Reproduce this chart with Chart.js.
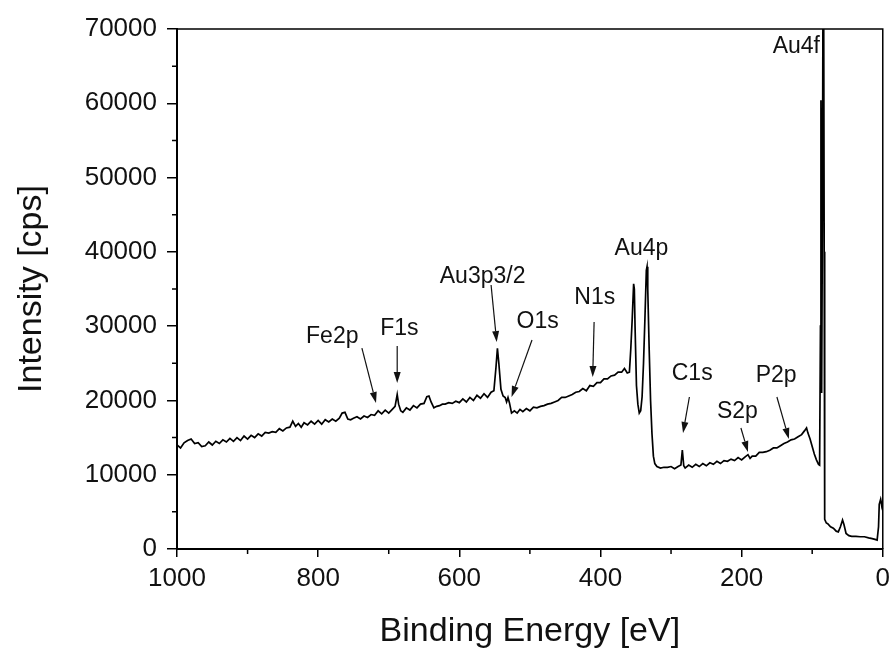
<!DOCTYPE html>
<html>
<head>
<meta charset="utf-8">
<script src="https://cdn.jsdelivr.net/npm/chart.js@4.4.0/dist/chart.umd.min.js"></script>
<style>
  html, body { margin: 0; padding: 0; background: #fff; }
  #wrap { width: 896px; height: 655px; }
</style>
</head>
<body>
<div id="wrap"><canvas id="xps" width="896" height="655"></canvas></div>
<script>
// XPS survey spectrum
const bindingEnergy = [
  1000,995,990,985,980,975,970,965,960,955,950,945,940,935,930,925,920,915,910,905,
  900,895,890,885,880,875,870,865,860,855,850,845,840,836,832,828,824,820,815,810,
  805,800,795,790,785,780,775,770,766,762,758,754,750,745,740,735,730,725,720,715,
  710,705,700,695,691,688,686,683,680,675,670,665,660,655,650,646,643,640,636,632,
  628,624,620,615,610,605,600,595,590,585,580,575,570,565,560,555,551,548,546,544,
  541,538,535,533,531,529,526,522,518,514,510,505,500,495,490,485,480,475,470,465,
  460,455,450,445,440,435,430,425,420,415,410,405,400,395,390,385,380,375,370,366,
  362,359,357,355,353,352,351,349,347,345,343,341,339,337,335,334,333,331,329,327,
  325,323,320,315,310,305,300,295,290,286,284,282,280,275,270,265,260,255,250,245,
  240,235,230,225,220,215,210,205,200,195,191,188,185,180,175,170,165,160,155,150,
  145,140,135,130,125,120,115,111,108,106,103,100,97,94,91,89.5,88.3,87.6,86.6,85.5,
  84.2,83,82.3,80,78,74,70,66,63,60,57,55,52,48,44,38,32,26,20,15,
  11,8,6,5,3,2,1,0
];
const intensity = [
  14000,13600,14300,14600,14800,14200,14300,13800,13900,14400,14000,14500,14200,14700,14400,14900,14500,15000,14600,15200,
  14800,15300,15000,15500,15200,15700,15600,15800,15700,16200,15900,16300,16400,17200,16500,16900,16400,17000,16700,17200,
  16800,17300,16800,17400,17100,17500,17200,17600,18300,18400,17500,17400,17600,17800,17500,17900,17700,18100,18000,18600,
  18200,18700,18300,18800,19200,20800,19500,18600,18400,19000,18700,19300,19000,19500,19600,20500,20600,19800,19000,19200,
  19300,19500,19500,19700,19600,19900,19700,20200,19800,20400,20000,20700,20300,20900,20400,21100,21300,24500,27000,25000,
  21500,20600,20400,19800,20400,19700,18300,18600,18300,18800,18500,18900,18600,19100,19000,19200,19300,19500,19600,19800,
  20000,20400,20400,20600,20800,21100,21200,21600,21300,22000,21900,22400,22400,22900,22900,23300,23400,23800,23800,24300,
  23700,23800,27000,31000,35700,35000,30000,22000,19500,18300,18600,20500,25000,31000,37500,38000,35000,27000,20000,15500,
  12500,11500,11100,10900,11000,11000,11100,10800,11100,11300,13300,11200,10900,11300,11000,11400,11100,11500,11200,11600,
  11400,11800,11500,11900,11800,12100,11900,12300,12000,12400,12700,12200,12500,12500,13000,13000,13100,13300,13600,13600,
  13900,14200,14400,14700,14800,15100,15400,15900,16300,15600,14800,13800,12800,12000,11400,11300,30000,60400,21000,45000,
  95000,40000,4000,3500,3400,3000,2800,2400,2300,3000,3900,3300,2100,1800,1700,1700,1650,1650,1500,1400,
  1300,1200,3000,6000,6700,6200,5500,5200
];

const xTicks = [1000, 800, 600, 400, 200, 0];
const xMinor = [900, 700, 500, 300, 100];
const yTicks = [0, 10000, 20000, 30000, 40000, 50000, 60000, 70000];
const yMinor = [5000, 15000, 25000, 35000, 45000, 55000, 65000];

// peak labels: text spot and arrow, all in (eV, cps)
const peakLabels = [
  { text: 'Fe2p',    at: [780, 28540],  from: [738, 27050], to: [718, 19650] },
  { text: 'F1s',     at: [685, 29610],  from: [688, 27320], to: [688, 22340] },
  { text: 'Au3p3/2', at: [567, 36610],  from: [555, 35530], to: [547, 27860] },
  { text: 'O1s',     at: [489, 30550],  from: [497, 28130], to: [526, 20460] },
  { text: 'N1s',     at: [408, 33780],  from: [409, 30550], to: [411, 23150] },
  { text: 'Au4p',    at: [342, 40380] },
  { text: 'C1s',     at: [270, 23550],  from: [274, 20460], to: [283, 15610] },
  { text: 'S2p',     at: [206, 18440],  from: [201, 16290], to: [191, 13060] },
  { text: 'P2p',     at: [151, 23290],  from: [150, 20460], to: [133, 14810] },
  { text: 'Au4f',    at: [89, 67570], align: 'right' }
];

const FONT = '"Liberation Sans", Arial, sans-serif';

const framePlugin = {
  id: 'frame',
  afterDraw(chart) {
    const {ctx, chartArea: a, scales: {x, y}} = chart;
    ctx.save();
    ctx.strokeStyle = '#000';
    ctx.lineWidth = 1.5;
    ctx.beginPath();
    ctx.moveTo(a.left, a.top);
    ctx.lineTo(a.right, a.top);
    ctx.lineTo(a.right, a.bottom);
    ctx.stroke();
    // short minor ticks
    ctx.beginPath();
    yMinor.forEach(v => {
      const p = y.getPixelForValue(v);
      ctx.moveTo(a.left, p);
      ctx.lineTo(a.left - 5, p);
    });
    xMinor.forEach(v => {
      const p = x.getPixelForValue(v);
      ctx.moveTo(p, a.bottom);
      ctx.lineTo(p, a.bottom + 5);
    });
    ctx.stroke();
    ctx.restore();
  }
};

const labelPlugin = {
  id: 'peakLabels',
  afterDatasetsDraw(chart) {
    const {ctx, scales: {x, y}} = chart;
    ctx.save();
    ctx.fillStyle = '#111';
    ctx.strokeStyle = '#111';
    ctx.lineWidth = 1.2;
    ctx.font = '23px ' + FONT;
    ctx.textBaseline = 'middle';
    peakLabels.forEach(p => {
      ctx.textAlign = p.align || 'center';
      ctx.fillText(p.text, x.getPixelForValue(p.at[0]), y.getPixelForValue(p.at[1]));
      if (!p.from) return;
      const x1 = x.getPixelForValue(p.from[0]), y1 = y.getPixelForValue(p.from[1]);
      const x2 = x.getPixelForValue(p.to[0]), y2 = y.getPixelForValue(p.to[1]);
      const ang = Math.atan2(y2 - y1, x2 - x1);
      const len = 11, half = 3.5;
      const bx = x2 - len * Math.cos(ang), by = y2 - len * Math.sin(ang);
      ctx.beginPath();
      ctx.moveTo(x1, y1);
      ctx.lineTo(bx, by);
      ctx.stroke();
      ctx.beginPath();
      ctx.moveTo(x2, y2);
      ctx.lineTo(bx + half * Math.sin(ang), by - half * Math.cos(ang));
      ctx.lineTo(bx - half * Math.sin(ang), by + half * Math.cos(ang));
      ctx.closePath();
      ctx.fill();
    });
    ctx.restore();
  }
};

new Chart(document.getElementById('xps'), {
  type: 'line',
  data: {
    datasets: [{
      data: bindingEnergy.map((e, i) => ({x: e, y: intensity[i]})),
      borderColor: '#000',
      borderWidth: 1.7,
      pointRadius: 0,
      tension: 0
    }]
  },
  options: {
    responsive: false,
    animation: false,
    layout: { padding: { top: 29, right: 10, left: 0, bottom: 0 } },
    plugins: { legend: { display: false }, tooltip: { enabled: false } },
    scales: {
      x: {
        type: 'linear',
        reverse: true,
        min: 0,
        max: 1000,
        afterBuildTicks: s => { s.ticks = xTicks.map(v => ({value: v})); },
        afterFit: s => { s.height = 106; },
        grid: { drawOnChartArea: false, tickLength: 8, color: '#000', lineWidth: 1.5 },
        border: { display: true, color: '#000', width: 2 },
        ticks: {
          color: '#111', padding: 6, maxRotation: 0,
          font: { family: FONT, size: 26 },
          callback: v => String(v)
        },
        title: {
          display: true,
          text: 'Binding Energy [eV]',
          color: '#111',
          padding: { top: 0, bottom: 3 },
          font: { family: FONT, size: 34 }
        }
      },
      y: {
        min: 0,
        max: 70000,
        afterBuildTicks: s => { s.ticks = yTicks.map(v => ({value: v})); },
        afterFit: s => { s.width = 177; },
        grid: { drawOnChartArea: false, tickLength: 10, color: '#000', lineWidth: 1.5 },
        border: { display: true, color: '#000', width: 2 },
        ticks: {
          color: '#111', padding: 10,
          font: { family: FONT, size: 26 },
          callback: v => String(v)
        },
        title: {
          display: true,
          text: 'Intensity [cps]',
          color: '#111',
          padding: { top: 11, bottom: 0 },
          font: { family: FONT, size: 34 }
        }
      }
    }
  },
  plugins: [framePlugin, labelPlugin]
});
</script>
</body>
</html>
